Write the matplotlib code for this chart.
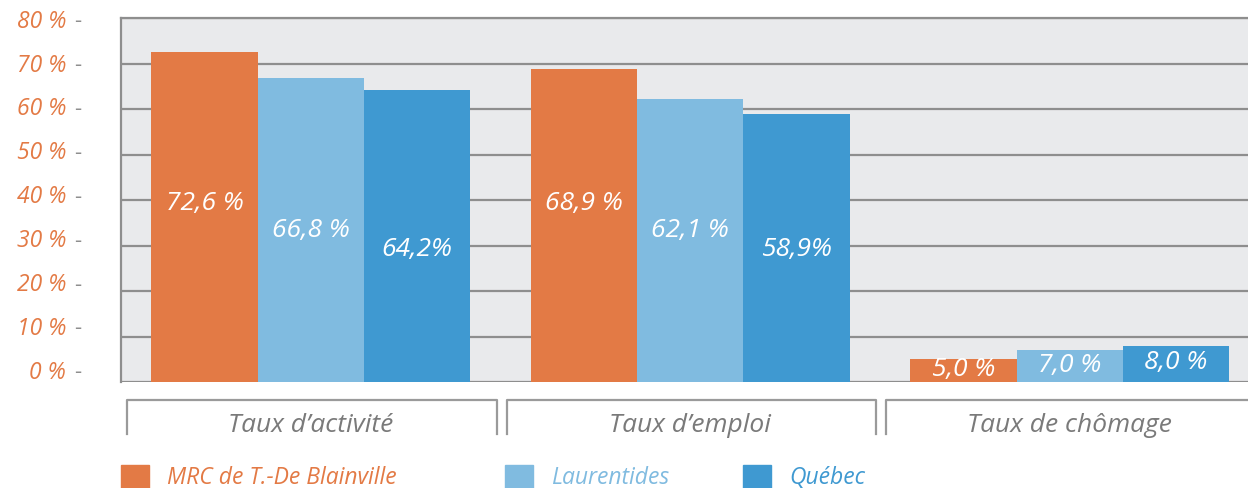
import numpy as np
import matplotlib.pyplot as plt
from matplotlib.patches import Rectangle
from matplotlib.transforms import blended_transform_factory

plt.rcParams['font.family'] = ['Open Sans', 'DejaVu Sans']

categories = ["Taux d\u2019activité", "Taux d\u2019emploi", "Taux de chômage"]
series = ["MRC de T.-De Blainville", "Laurentides", "Québec"]
mrc = [72.6, 68.9, 5.0]
laurentides = [66.8, 62.1, 7.0]
quebec = [64.2, 58.9, 8.0]
value_labels = [["72,6 %", "68,9 %", "5,0 %"],
                ["66,8 %", "62,1 %", "7,0 %"],
                ["64,2%", "58,9%", "8,0 %"]]
yticks = [0, 10, 20, 30, 40, 50, 60, 70, 80]

colors = ['#E37A45', '#80BBE0', '#3F99D1']
grey = '#8E8E8E'
W, H = 1248, 488

fig = plt.figure(figsize=(12.48, 4.88), dpi=100)
ax = fig.add_axes([121 / W, 1 - 382 / H, 1 - 121 / W, (382 - 18) / H])
ax.set_facecolor('#E9EAEC')

x = np.arange(len(categories))
w = 0.28
data = [mrc, laurentides, quebec]
# label heights inside the tall bars (fixed per series), small bars get it inside near the top
label_y = [39.3, 33.2, 29.2]
for i, vals in enumerate(data):
    xs = x + (i - 1) * w
    ax.bar(xs, vals, width=w, color=colors[i], zorder=3, linewidth=0)
    for j, v in enumerate(vals):
        yy = label_y[i] if v > 20 else v * 0.53
        ax.text(xs[j], yy, value_labels[i][j], ha='center', va='center',
                color='white', fontsize=19, style='italic', zorder=4)

ax.set_xlim(-0.5, 2.47)
ax.set_ylim(0, 80)
ax.set_yticks(yticks)
ax.yaxis.grid(True, color=grey, linewidth=1.6, zorder=1)
ax.set_axisbelow(True)
ax.set_xticks([])
ax.tick_params(axis='y', length=0, labelleft=False)
for s in ['right', 'bottom']:
    ax.spines[s].set_visible(False)
for s in ['top', 'left']:
    ax.spines[s].set_color(grey)
    ax.spines[s].set_linewidth(1.6)

# y labels with a detached grey dash
tr = blended_transform_factory(fig.transFigure, ax.transData)
for t in yticks:
    yy = t + 2.0 - t * 0.035
    fig.text(66 / W, yy, f"{t} %", transform=tr, ha='right', va='center',
             color=colors[0], fontsize=16.5, style='italic')
    fig.text(78 / W, yy, "-", transform=tr, ha='center', va='center',
             color=grey, fontsize=16)

# category brackets below the plot
bx = fig.add_axes([121 / W, 1 - 440 / H, 1 - 121 / W, 42 / H], sharex=ax)
bx.axis('off')
bx.set_ylim(0, 1)
for j, cat in enumerate(categories):
    l, r = x[j] - 0.483, x[j] + 0.49
    bx.plot([l, l, r, r], [0.15, 0.95, 0.95, 0.15], color='#9A9A9A', lw=1.6,
            clip_on=False)
    bx.text(x[j], 0.35, cat, ha='center', va='center', color='#7A7A7A',
            fontsize=19, style='italic')

# legend
leg_x = [121, 505, 743]
for i, name in enumerate(series):
    fig.add_artist(Rectangle((leg_x[i] / W, 0), 28 / W, (488 - 465) / H,
                             transform=fig.transFigure, color=colors[i]))
    fig.text((leg_x[i] + 46) / W, 1 - 478 / H, name, ha='left', va='center',
             color=colors[i], fontsize=16.5, style='italic')

fig.savefig('out.png', dpi=100)
